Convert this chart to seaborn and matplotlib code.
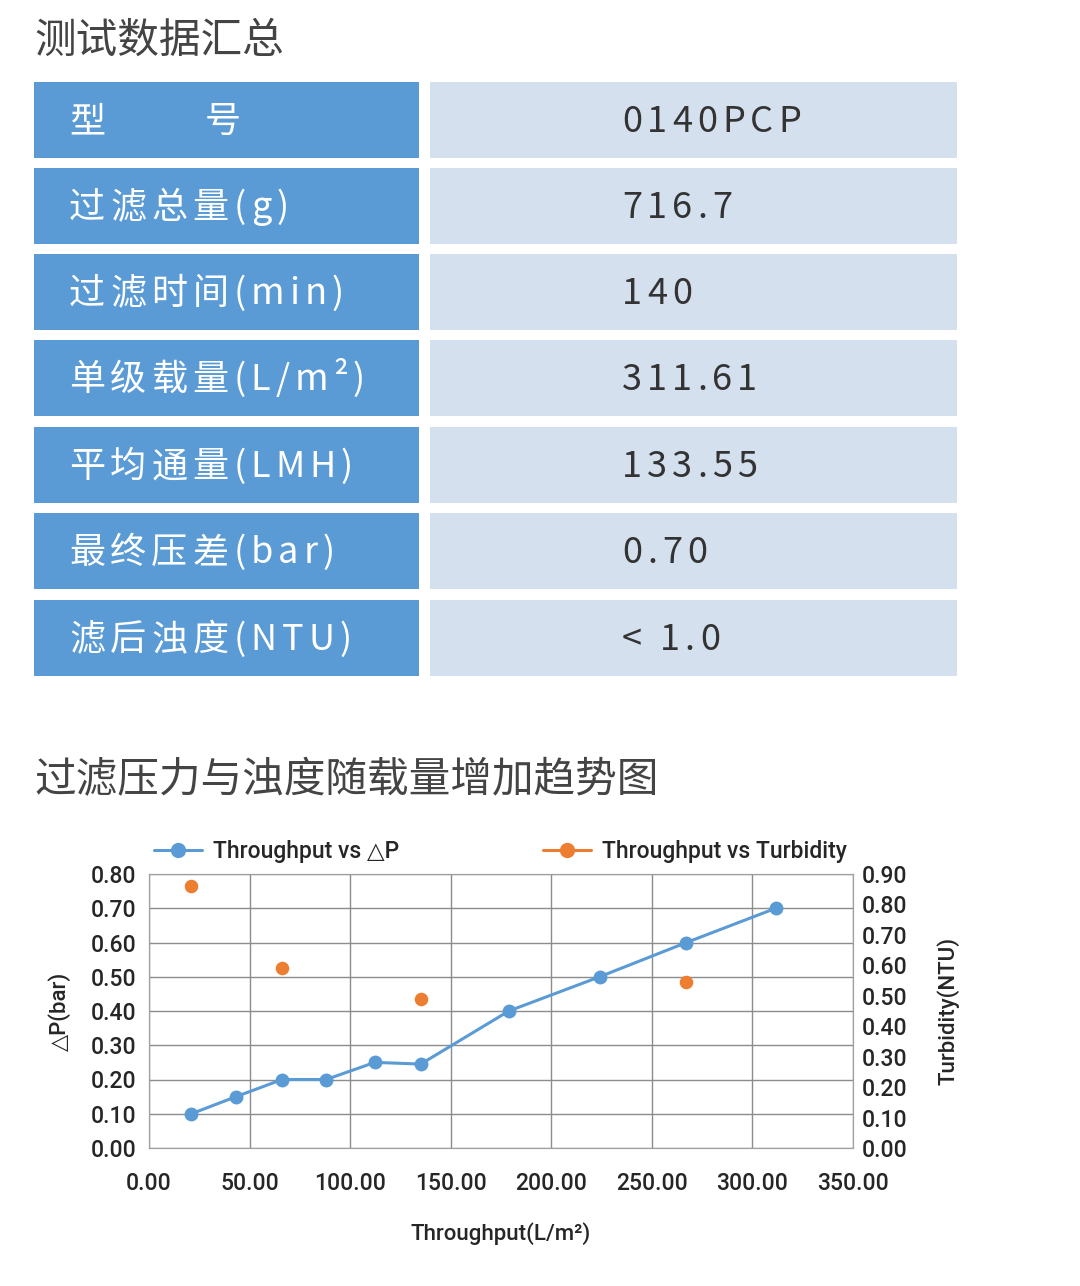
import matplotlib
matplotlib.use('Agg')
import matplotlib.pyplot as plt
from matplotlib.patches import Rectangle
from matplotlib.lines import Line2D
import seaborn as sns
import pandas as pd

# 表格数据
row_labels = ['型\u3000\u3000 号', '过滤总量(g)', '过滤时间(min)', '单级载量(L/m²)',
              '平均通量(LMH)', '最终压差(bar)', '滤后浊度(NTU)']
row_values = ['0140PCP', '716.7', '140', '311.61', '133.55', '0.70', '< 1.0']

# 曲线数据
throughput = [21.1, 43.3, 66.2, 88.1, 112.3, 135.1, 178.9, 224.1, 267.2, 311.61]
delta_p = [0.10, 0.15, 0.20, 0.20, 0.25, 0.245, 0.40, 0.50, 0.60, 0.70]
turb_x = [21.1, 66.2, 135.1, 267.2]
turbidity = [0.86, 0.59, 0.49, 0.545]

x_ticks = [0, 50, 100, 150, 200, 250, 300, 350]
left_ticks = [0.0, 0.1, 0.2, 0.3, 0.4, 0.5, 0.6, 0.7, 0.8]
right_ticks = [0.0, 0.1, 0.2, 0.3, 0.4, 0.5, 0.6, 0.7, 0.8, 0.9]

BLUE = '#5b9bd5'
ORANGE = '#ed7d31'
CELL_L = '#5b9bd5'
CELL_R = '#d5e0ee'
LATIN = ['Roboto', 'DejaVu Sans']

sns.set_style('white')
plt.rcParams['font.family'] = ['Noto Sans CJK SC', 'DejaVu Sans']

W, H = 1080, 1286
fig = plt.figure(figsize=(W / 100, H / 100), dpi=100)
fig.patch.set_facecolor('white')
renderer = fig.canvas.get_renderer()


def fx(px):
    return px / W


def fy(py):
    return 1 - py / H


def spaced_text(x, y, s, size, color, gap):
    # 逐字绘制, 模拟字间距 (像素坐标)
    cur = x
    for ch in s:
        t = fig.text(fx(cur), fy(y), ch, fontsize=size, color=color, va='center', ha='left')
        w = t.get_window_extent(renderer).width
        if ch == ' ':
            w = size * 0.3
        cur += w + gap


# 标题
fig.text(fx(34), fy(41), '测试数据汇总', fontsize=30, color='#444444', va='center', ha='left')
fig.text(fx(34), fy(781), '过滤压力与浊度随载量增加趋势图', fontsize=30, color='#444444',
         va='center', ha='left')

# 表格
row_top = [82, 168, 254, 340, 427, 513, 600]
row_h = 76
for top, lab, val in zip(row_top, row_labels, row_values):
    fig.patches.append(Rectangle((fx(34), fy(top + row_h)), fx(419 - 34), row_h / H,
                                 transform=fig.transFigure, facecolor=CELL_L, edgecolor='none'))
    fig.patches.append(Rectangle((fx(430), fy(top + row_h)), fx(957 - 430), row_h / H,
                                 transform=fig.transFigure, facecolor=CELL_R, edgecolor='none'))
    spaced_text(69, top + row_h / 2 + 2, lab, 26, 'white', 5)
    spaced_text(622, top + row_h / 2 + 2, val, 26, '#333333', 5)

# 图表
ax = fig.add_axes([fx(149), fy(1148), fx(853 - 149), (1148 - 874) / H])
df = pd.DataFrame({'x': throughput, 'dp': delta_p})
sns.lineplot(data=df, x='x', y='dp', ax=ax, color=BLUE, lw=2.2, marker='o',
             markersize=10, markeredgewidth=0, zorder=3)
ax.set_xlim(0, 350)
ax.set_ylim(0, 0.8)
ax.set_xticks(x_ticks)
ax.set_xticklabels([f'{v:.2f}' for v in x_ticks])
ax.set_yticks(left_ticks)
ax.set_yticklabels([f'{v:.2f}' for v in left_ticks])
ax.grid(True, color='#8c8c8c', lw=1)
for s in ax.spines.values():
    s.set_color('#a0a0a0')
ax.tick_params(axis='x', length=0, pad=17, labelsize=16.5)
ax.tick_params(axis='y', length=0, pad=9, labelsize=16.5)
for t in ax.get_xticklabels() + ax.get_yticklabels():
    t.set_family(LATIN)
    t.set_weight('medium')
ax.set_xlabel('Throughput(L/m²)', fontsize=16, family=LATIN, weight='medium', labelpad=20)
ax.set_ylabel('△P(bar)', fontsize=16, family=LATIN, weight='medium', labelpad=14)

ax2 = ax.twinx()
dt = pd.DataFrame({'x': turb_x, 't': turbidity})
sns.scatterplot(data=dt, x='x', y='t', ax=ax2, color=ORANGE, s=95, linewidth=0, zorder=3)
ax2.set_ylim(0, 0.9)
ax2.set_yticks(right_ticks)
ax2.set_yticklabels([f'{v:.2f}' for v in right_ticks])
ax2.tick_params(axis='y', length=0, pad=6, labelsize=16.5)
for t in ax2.get_yticklabels():
    t.set_family(LATIN)
    t.set_weight('medium')
ax2.set_ylabel('Turbidity(NTU)', fontsize=16, family=LATIN, weight='medium', labelpad=21)
ax2.grid(False)
for s in ax2.spines.values():
    s.set_color('#a0a0a0')

handles = [Line2D([], [], color=BLUE, lw=2.2, marker='o', markersize=11, markeredgewidth=0),
           Line2D([], [], color=ORANGE, lw=2.2, marker='o', markersize=11, markeredgewidth=0)]
leg = ax.legend(handles, ['Throughput vs △P', 'Throughput vs Turbidity'], ncol=2,
                loc='lower left', bbox_to_anchor=(-0.009, 1.0), frameon=False,
                prop={'family': LATIN, 'size': 16.5, 'weight': 'medium'},
                columnspacing=6.3, handlelength=2.1, handletextpad=0.45, borderaxespad=0.1)

fig.savefig('out.png', dpi=100, facecolor='white')
